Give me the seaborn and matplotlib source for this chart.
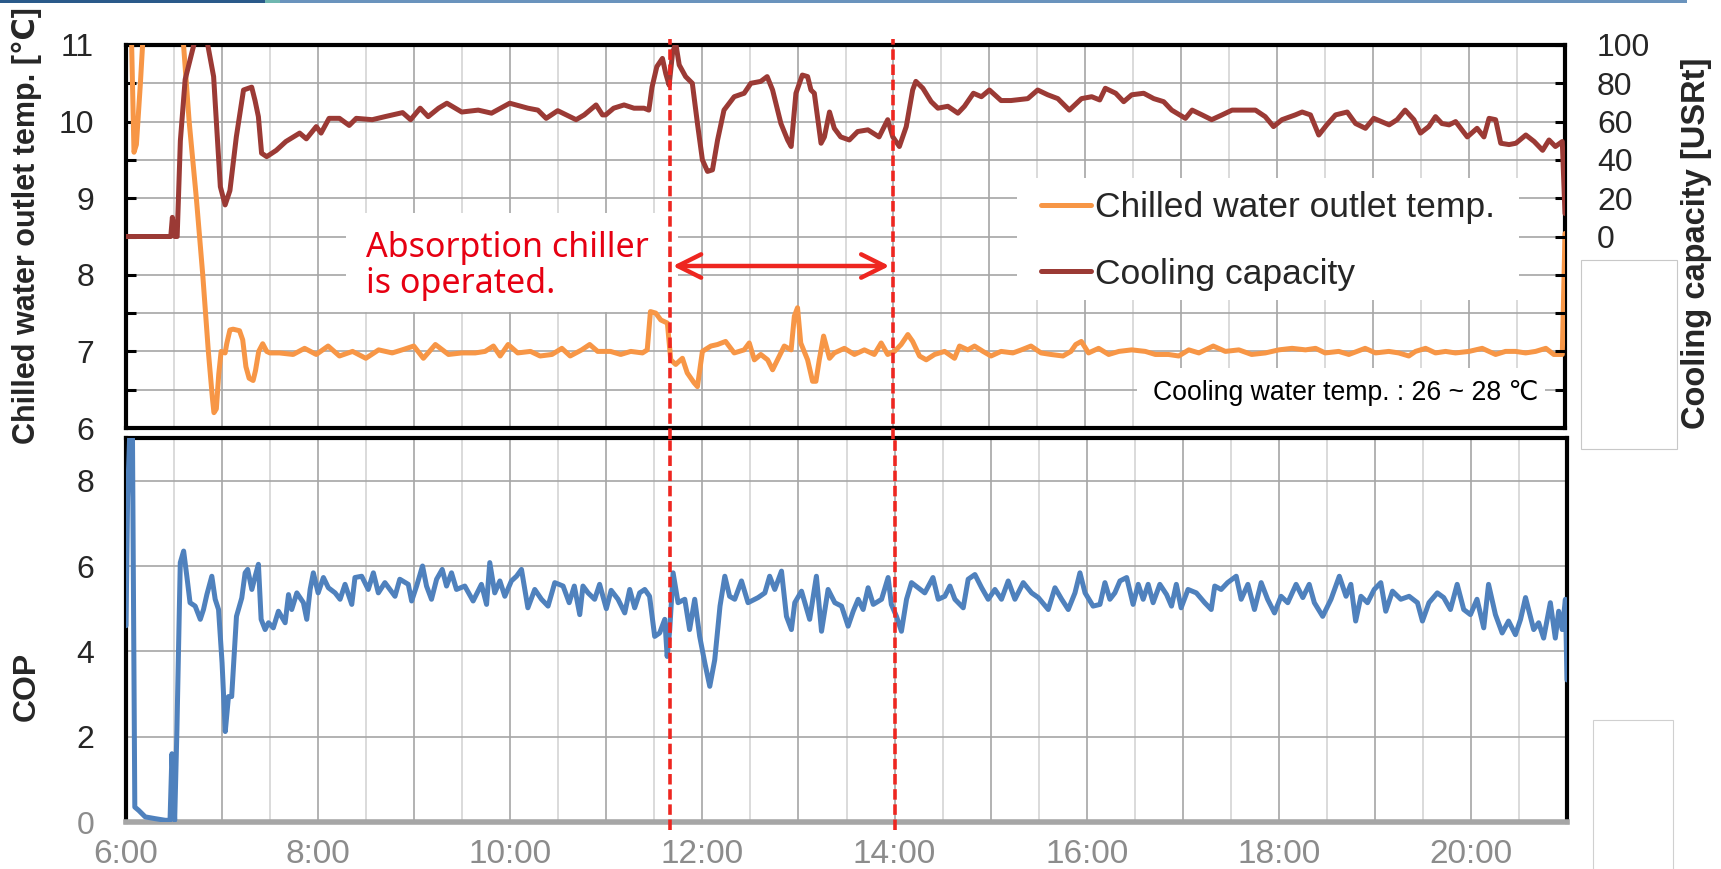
import numpy as np
import matplotlib
matplotlib.use("Agg")
import matplotlib.pyplot as plt
from matplotlib.patches import Rectangle
from matplotlib.lines import Line2D
from matplotlib.ticker import FuncFormatter, MultipleLocator
import seaborn as sns

# ---------------- data (minutes after 6:00) ----------------
temp_t = [0, 3, 5, 6.5, 9, 12, 20, 30, 35, 36, 39.5, 44, 48, 51.5, 54, 55, 56.5, 58, 59.5, 62, 63, 65, 67, 71, 73,
          75, 77, 79.5, 81, 83, 85.5, 88, 90, 96, 104.5, 111.7, 119, 126.4, 133.5, 141.7, 150, 158, 166.5, 172.7,
          180, 186, 193.5, 201.7, 210, 218.4, 224.6, 229.8, 234, 239, 245, 253, 259, 266.4, 272.6, 277.8, 285,
          290, 295, 303, 309.4, 315.7, 323, 326, 328, 331.3, 334.5, 338.6, 340.7, 343.8, 348, 351, 355.3, 357.4,
          360.5, 365.8, 370, 375, 380.4, 386.6, 389.8, 393, 397, 401.3, 404.4, 408.6, 411.7, 416, 418, 420, 422,
          426.3, 429.4, 431.5, 433.6, 436.3, 440, 443, 449.3, 455.6, 461.8, 468, 472.3, 476.4, 480.6, 484.8, 489,
          492, 496.3, 500.5, 505.7, 512, 518.2, 521.3, 526.5, 530.7, 536, 541, 547.3, 554.7, 560, 566, 572.3,
          578.5, 586, 591, 594, 597.5, 602, 608.3, 614.6, 621, 629, 637.5, 643.8, 652, 658.4, 664.7, 671, 680,
          687.6, 696, 704, 712.6, 721, 729.3, 737.7, 744, 750, 758.5, 764.8, 775, 781.5, 789.8, 796, 802.3, 806.5,
          812.8, 819, 825.3, 831.5, 840, 848.2, 856.6, 862.8, 869, 875.4, 881.6, 888, 893, 898.3, 900]
temp_v = [13.0, 11.5, 9.6, 9.7, 10.5, 11.6, 14.0, 14.0, 11.5, 11.0, 10.0, 9.0, 8.0, 7.0, 6.4, 6.2, 6.25, 6.7, 7.0,
          6.98, 7.1, 7.28, 7.29, 7.27, 7.15, 6.8, 6.65, 6.62, 6.75, 7.0, 7.1, 7.0, 6.98, 6.98, 6.96, 7.04, 6.96,
          7.07, 6.94, 7.0, 6.91, 7.02, 6.98, 7.02, 7.07, 6.91, 7.09, 6.96, 6.98, 6.98, 7.0, 7.07, 6.94, 7.09, 6.98,
          7.0, 6.94, 6.96, 7.04, 6.94, 7.02, 7.09, 7.0, 7.0, 6.96, 7.0, 6.98, 7.02, 7.52, 7.5, 7.41, 7.37, 6.89,
          6.83, 6.91, 6.72, 6.59, 6.54, 7.0, 7.07, 7.09, 7.13, 6.98, 7.02, 7.11, 6.89, 6.96, 6.89, 6.76, 6.94, 7.07,
          7.02, 7.46, 7.57, 7.11, 6.89, 6.61, 6.61, 6.89, 7.2, 6.91, 6.98, 7.04, 6.96, 7.02, 6.96, 7.11, 6.96, 7.0,
          7.09, 7.22, 7.13, 6.94, 6.89, 6.96, 7.0, 6.91, 7.07, 7.02, 7.07, 7.0, 6.94, 7.0, 6.98, 7.02, 7.07, 6.98,
          6.96, 6.94, 7.0, 7.09, 7.13, 6.98, 7.04, 6.96, 7.0, 7.02, 7.0, 6.96, 6.96, 6.94, 7.02, 6.98, 7.07, 7.0,
          7.02, 6.96, 6.98, 7.02, 7.04, 7.02, 7.04, 6.98, 7.0, 6.96, 7.04, 6.98, 7.0, 6.98, 6.94, 7.0, 7.04, 6.98,
          7.0, 6.98, 7.0, 7.04, 6.96, 7.0, 7.0, 6.98, 7.0, 7.04, 6.96, 6.96, 8.54]

cap_t = [0, 28, 29, 30.5, 32, 34, 37, 40, 43, 50.7, 54.8, 59, 62, 65, 69, 73.5, 78.6, 80.7, 82.8, 84.8, 88, 94, 100,
         108.6, 112.8, 119, 122, 127, 133.5, 139.6, 144, 154, 162, 173, 178, 184, 189, 195.5, 200.7, 210, 220.3,
         228.6, 240, 251.4, 257.6, 262.8, 270, 281.5, 286.6, 294, 298, 300, 305, 311.5, 317.7, 324, 327, 329, 332,
         335.5, 337.6, 339.7, 341.8, 343.8, 346, 350, 354.2, 357.4, 360.5, 363.7, 366.8, 370, 374, 380.4, 386.6,
         390.8, 397, 401, 404.4, 409.6, 413.8, 416, 419, 423, 426.3, 428.4, 430.5, 434.7, 436.8, 440, 443, 447,
         452.4, 457.6, 464, 471, 476.4, 479.6, 483.7, 488, 492, 494, 498.4, 503.6, 507.8, 514, 520.3, 524.4, 530,
         535, 540, 547.3, 553.5, 564, 570.2, 576.5, 582.8, 590, 597.6, 604, 609, 612.5, 619, 624, 629, 636.5,
         642.8, 649, 654, 662.6, 666.8, 673, 679, 685.5, 691.8, 700, 706.4, 712.5, 717.7, 723, 731.3, 735.6, 740.8,
         746, 751, 756.5, 763.8, 769, 775.2, 780.4, 790, 795, 800, 805.5, 809.6, 814.8, 819, 823, 827.5, 831.6,
         838.9, 845, 849.3, 852.5, 856.6, 859.8, 865, 869.3, 875.5, 880.7, 886, 890, 894, 898.3, 900]
cap_v = [0, 0, 10, 0, 0, 50, 82, 92, 102, 102, 83.5, 26, 16.5, 24, 52, 76.5, 78, 71, 62.6, 43.5, 41.7, 45, 49.6, 54,
         51, 57.4, 54, 61.7, 61.7, 58, 61.7, 61, 62.6, 64.7, 61, 67, 62.6, 67, 69.6, 65, 66, 64.4, 69.6, 67, 66,
         61.7, 65.7, 61, 63.5, 68.7, 63.5, 63.5, 67, 68.7, 67, 67, 66, 78, 88.7, 93, 85, 79, 95.7, 101, 89.6, 83.5,
         80, 59, 40, 34, 34.8, 50.4, 66, 73, 74.8, 80, 81, 83.5, 76.5, 59, 50.4, 47, 74.8, 84.3, 83.5, 76.5, 74.8,
         48.7, 52, 65, 56.5, 52, 50.4, 54.8, 55.7, 52, 61, 52, 47, 57.4, 76.5, 81, 77.4, 70.4, 67, 68, 64.4, 68,
         74.8, 73, 76.5, 71, 71, 72, 76.5, 74, 72, 66, 72, 73, 71.3, 77.4, 74.8, 70.4, 74, 74.8, 72, 70.4, 66, 61.7,
         66, 63.5, 61, 63.5, 66, 66, 66, 62.6, 57.4, 61, 63.5, 65, 63.5, 53, 58.3, 63.5, 65, 59, 56.5, 61.7, 58.3,
         61, 66, 61, 54, 57.4, 62.6, 59, 58.3, 60, 52, 56.5, 52, 61.7, 61, 48.7, 48, 48.7, 53, 49.6, 45, 50.4, 47,
         49.6, 12]

cop_t = [0, 1, 2.5, 4, 5.5, 8, 12, 18, 24.5, 27.5, 28.7, 30.4, 31.8, 33.9, 36, 38, 40, 43.2, 46.4, 48.4, 50.5, 53.6,
         55.7, 57.8, 60, 62, 64, 66, 69, 72.3, 74.4, 76, 78.6, 80.7, 82.7, 84.4, 86.9, 89, 92, 95.2, 99.4, 101.5,
         103.5, 106.7, 110.8, 112.9, 115, 117, 120, 123.3, 126.4, 130.6, 133.7, 136.8, 141, 143, 147.2, 151.3,
         154.5, 157.6, 161.7, 168, 171, 176.3, 178.4, 181.5, 185.2, 187.7, 190.8, 194, 197.5, 200.2, 203.3, 206.4,
         211.6, 216.8, 222, 225.2, 227.2, 230.3, 233.5, 236.6, 240.7, 243.9, 247, 251, 255.3, 259.5, 263.6, 267.8,
         273, 276.8, 280, 283.4, 285.4, 288.6, 292.7, 295.8, 300, 303, 307.3, 311.5, 314.6, 317.7, 320.8, 324, 327,
         330.2, 333.3, 336.5, 338, 339.6, 341.7, 344.8, 349, 352, 355.2, 358.3, 361.5, 364.6, 367.7, 371, 374, 377,
         380.2, 384.4, 388.5, 394.8, 399, 402, 405.2, 409.4, 412.5, 415.6, 417.7, 421.9, 427, 431.2, 434.4, 438.5,
         442.7, 446.9, 451, 454.2, 457.3, 460.4, 463.5, 466.7, 471.9, 476, 478, 481.2, 484.3, 487.5, 490.6, 494.8,
         498.9, 504, 507.3, 511.4, 514.6, 517.7, 522.9, 526, 530.2, 534.4, 538.5, 542.7, 546.8, 551, 555.2, 560.4,
         565.6, 569.8, 576, 580.2, 584.4, 588.5, 592.7, 595.8, 599, 604, 608.3, 611.4, 614.5, 617.6, 620.8, 625,
         629, 632.2, 635.3, 638.4, 641.5, 645.7, 649.9, 653, 656, 659, 663.3, 668.5, 673.7, 677.8, 680, 684, 688,
         693.4, 696.5, 700.7, 704.8, 709, 713, 717.3, 721.4, 725.6, 730.8, 735, 739, 742.2, 747.4, 752.6, 757.8,
         762, 765, 768, 771.3, 775.4, 779.6, 783.7, 786.8, 791, 796.2, 801.4, 806.6, 809.7, 813.8, 819, 823, 827.2,
         831.4, 835.5, 839.7, 843.8, 848, 851, 855.3, 859.5, 863.5, 867.8, 871, 874.1, 879.2, 882.3, 885.4, 889.6,
         892.7, 894.8, 897, 899, 900]
cop_v = [4.6, 7.6, 9.3, 9.3, 0.35, 0.27, 0.12, 0.08, 0.04, 0.04, 1.6, 0.04, 2.16, 6.08, 6.35, 5.76, 5.14, 5.06, 4.75,
         4.98, 5.33, 5.76, 5.22, 4.98, 3.73, 2.12, 2.94, 2.94, 4.82, 5.25, 5.84, 5.92, 5.45, 5.76, 6.04, 4.75, 4.51,
         4.67, 4.55, 4.94, 4.67, 5.33, 4.98, 5.37, 5.14, 4.75, 5.45, 5.84, 5.37, 5.73, 5.49, 5.37, 5.22, 5.57, 5.1,
         5.73, 5.76, 5.45, 5.84, 5.37, 5.61, 5.29, 5.69, 5.57, 5.18, 5.53, 6.0, 5.53, 5.22, 5.69, 5.92, 5.53, 5.84,
         5.45, 5.53, 5.18, 5.57, 5.1, 6.08, 5.37, 5.65, 5.29, 5.65, 5.76, 5.92, 5.02, 5.45, 5.22, 5.06, 5.61, 5.53,
         5.14, 5.53, 4.86, 5.53, 5.37, 5.22, 5.57, 5.0, 5.43, 5.22, 4.9, 5.45, 5.02, 5.37, 5.45, 5.29, 4.35, 4.43,
         4.75, 3.88, 4.51, 5.84, 5.14, 5.22, 4.51, 5.22, 4.35, 3.73, 3.18, 3.8, 5.06, 5.76, 5.29, 5.22, 5.65, 5.14,
         5.26, 5.37, 5.76, 5.45, 5.88, 4.82, 4.51, 5.14, 5.41, 4.75, 5.76, 4.47, 5.45, 5.14, 5.06, 4.59, 4.94, 5.22,
         4.98, 5.49, 5.1, 5.22, 5.73, 5.1, 4.82, 4.47, 5.22, 5.61, 5.49, 5.37, 5.73, 5.22, 5.29, 5.53, 5.22, 5.02,
         5.69, 5.8, 5.49, 5.22, 5.45, 5.22, 5.65, 5.22, 5.61, 5.37, 5.26, 4.98, 5.49, 5.22, 4.98, 5.37, 5.84, 5.37,
         5.06, 5.1, 5.61, 5.22, 5.37, 5.65, 5.73, 5.1, 5.57, 5.22, 5.57, 5.14, 5.57, 5.33, 5.06, 5.57, 5.02, 5.45,
         5.37, 5.14, 4.98, 5.53, 5.45, 5.61, 5.76, 5.22, 5.57, 4.98, 5.61, 5.22, 4.9, 5.29, 5.14, 5.57, 5.26, 5.57,
         5.14, 4.82, 5.22, 5.76, 5.29, 5.57, 4.71, 5.29, 5.14, 5.45, 5.61, 4.94, 5.41, 5.22, 5.29, 5.14, 4.71, 5.14,
         5.37, 5.26, 4.98, 5.57, 4.98, 4.86, 5.22, 4.55, 5.57, 4.86, 4.43, 4.71, 4.39, 4.75, 5.26, 4.51, 4.67, 4.31,
         5.14, 4.31, 4.94, 4.51, 5.22, 3.33]

x_tick_minutes = list(range(0, 901, 120))
x_tick_labels = ["6:00", "8:00", "10:00", "12:00", "14:00", "16:00", "18:00", "20:00"]
chiller_start, chiller_end = 340, 480

series_temp = "Chilled water outlet temp."
series_cap = "Cooling capacity"

# ---------------- style ----------------
sns.set_theme(style="white")
plt.rcParams["font.family"] = ["Liberation Sans", "DejaVu Sans"]

W, H = 1721, 869
fig = plt.figure(figsize=(W / 100, H / 100), dpi=100)

def fx(px):
    return px / W

def fy(py):
    return 1 - py / H

ax_top = fig.add_axes([fx(126), fy(428), fx(1565 - 126), (428 - 45) / H])
ax_bot = fig.add_axes([fx(126), fy(822), fx(1567 - 126), (822 - 438) / H])
ax_cap = ax_top.twinx()

C_ORANGE = "#F79646"
C_BROWN = "#9B3A35"
C_BLUE = "#4F81BD"
C_RED = "#EE2620"
C_GRID = "#A6A6A6"
C_GRID_L = "#D4D4D4"
C_GRAY = "#8C8C8C"
LW = 3.6

# ---------------- lines ----------------
sns.lineplot(x=temp_t, y=temp_v, ax=ax_top, color=C_ORANGE, estimator=None, zorder=3)
sns.lineplot(x=cap_t, y=cap_v, ax=ax_cap, color=C_BROWN, estimator=None, zorder=3)
sns.lineplot(x=cop_t, y=cop_v, ax=ax_bot, color=C_BLUE, estimator=None, zorder=3)
for ax in (ax_top, ax_cap, ax_bot):
    for ln in ax.get_lines():
        ln.set_linewidth(LW)
        ln.set_solid_joinstyle("round")

# ---------------- axes limits / ticks ----------------
for ax in (ax_top, ax_bot, ax_cap):
    ax.set_xlim(0, 900)
    ax.set_xlabel("")
    ax.set_ylabel("")

ax_top.set_ylim(6, 11)
ax_cap.set_ylim(-100, 100)
ax_bot.set_ylim(0, 9)

# top panel
ax_top.set_yticks(np.arange(6, 11.01, 0.5))
ax_top.yaxis.set_major_formatter(FuncFormatter(lambda v, p: f"{v:g}" if abs(v - round(v)) < 1e-6 else ""))
ax_top.xaxis.set_major_locator(MultipleLocator(60))
ax_top.xaxis.set_minor_locator(MultipleLocator(30))
ax_top.tick_params(axis="x", which="both", labelbottom=False, direction="in", length=7, width=2.2, color="black")
ax_top.tick_params(axis="y", which="both", direction="in", length=7, width=2.2, color="black",
                   labelsize=23, pad=23)
ax_cap.set_yticks(np.arange(-100, 101, 20))
ax_cap.yaxis.set_major_formatter(FuncFormatter(lambda v, p: f"{v:g}" if v >= 0 else ""))
ax_cap.tick_params(axis="y", which="both", direction="in", length=7, width=2.2, color="black",
                   labelsize=23, pad=23)
ax_cap.tick_params(axis="x", which="both", bottom=False, top=False, labelbottom=False)

ax_top.grid(True, axis="y", color=C_GRID, lw=1.2)
ax_top.grid(True, axis="x", which="major", color=C_GRID, lw=1.2)
ax_top.grid(True, axis="x", which="minor", color=C_GRID_L, lw=1.2)
ax_top.set_axisbelow(True)
ax_cap.grid(False)

for s in ax_top.spines.values():
    s.set_color("black")
    s.set_linewidth(3)
for s in ax_cap.spines.values():
    s.set_visible(False)

# bottom panel
ax_bot.set_yticks([0, 2, 4, 6, 8])
ax_bot.yaxis.set_minor_locator(MultipleLocator(0.5))
ax_bot.xaxis.set_major_locator(MultipleLocator(60))
ax_bot.xaxis.set_minor_locator(MultipleLocator(30))
ax_bot.xaxis.set_major_formatter(FuncFormatter(
    lambda v, p: x_tick_labels[x_tick_minutes.index(int(round(v)))] if int(round(v)) in x_tick_minutes else ""))
ax_bot.tick_params(axis="x", which="both", direction="in", length=8, width=3, color=C_GRID,
                   labelsize=24, labelcolor=C_GRAY, pad=12)
ax_bot.tick_params(axis="y", which="both", direction="in", length=6, width=2.2, color="black",
                   labelsize=23, pad=23)
ax_bot.grid(True, axis="y", which="major", color=C_GRID, lw=1.2)
ax_bot.grid(True, axis="x", which="major", color=C_GRID, lw=1.2)
ax_bot.grid(True, axis="x", which="minor", color=C_GRID_L, lw=1.2)
ax_bot.set_axisbelow(True)
for k, s in ax_bot.spines.items():
    s.set_linewidth(3)
    s.set_color("black")
ax_bot.spines["bottom"].set_color(C_GRID)
ax_bot.spines["bottom"].set_linewidth(4)
for lab in ax_bot.get_yticklabels():
    if lab.get_text() == "0":
        lab.set_color(C_GRAY)

# ---------------- white boxes (annotation backgrounds) ----------------
for (x0, y0, w, h) in [(137.5, 7.51, 208, 1.30), (557.5, 7.67, 313.5, 1.59), (632.5, 6.02, 255, 0.76)]:
    ax_top.add_patch(Rectangle((x0, y0), w, h, facecolor="white", edgecolor="none", zorder=1))

# ---------------- operation period markers ----------------
for xv in (chiller_start, chiller_end):
    ax_cap.axvline(xv, ymin=-0.03, ymax=1.016, color=C_RED, lw=2.6, ls=(0, (2.9, 1.3)), clip_on=False, zorder=6)
    ax_bot.axvline(xv, ymin=-0.02, ymax=1.0, color=C_RED, lw=2.6, ls=(0, (2.9, 1.3)), clip_on=False, zorder=6)

ax_top.annotate("", xy=(chiller_start + 2, 8.115), xytext=(chiller_end - 2.5, 8.115),
                arrowprops=dict(arrowstyle="<->", color=C_RED, lw=3.2, mutation_scale=42,
                                shrinkA=0, shrinkB=0), zorder=6)
ax_top.text(150, 8.57, "Absorption chiller\nis operated.", color="#E60012", fontsize=24.5,
            family=["Noto Sans", "DejaVu Sans"], ha="left", va="top", linespacing=1.06, zorder=5)

ax_top.text(642.5, 6.46, "Cooling water temp. : 26 ~ 28 ℃", fontsize=19.2, color="black",
            ha="left", va="center", zorder=5)

# ---------------- legend ----------------
handles = [Line2D([], [], color=C_ORANGE, lw=LW), Line2D([], [], color=C_BROWN, lw=LW)]
leg = ax_cap.legend(handles, [series_temp, series_cap], loc="upper left",
                    bbox_to_anchor=(fx(1041), fy(191)), bbox_transform=fig.transFigure,
                    frameon=False, fontsize=25.5, handlelength=1.4, handletextpad=0.12,
                    labelspacing=0.95, borderpad=0, borderaxespad=0)
leg.set_zorder(7)

# ---------------- axis titles ----------------
fig.text(fx(27), fy(226), "Chilled water outlet temp. [℃]", rotation=90, ha="center", va="center",
         fontsize=22, fontweight="bold")
fig.text(fx(27), fy(686), "COP", rotation=90, ha="center", va="center", fontsize=23, fontweight="bold")
fig.text(fx(1697), fy(243), "Cooling capacity [USRt]", rotation=90, ha="center", va="center",
         fontsize=23.5, fontweight="bold")

# ---------------- slide decorations ----------------
fig.add_artist(Rectangle((0, fy(3)), fx(265), 3 / H, transform=fig.transFigure, color="#2A5A8A", lw=0))
fig.add_artist(Rectangle((fx(265), fy(3)), fx(15), 3 / H, transform=fig.transFigure, color="#6FB7B0", lw=0))
fig.add_artist(Rectangle((fx(280), fy(3)), fx(1407), 3 / H, transform=fig.transFigure, color="#6A93BD", lw=0))
fig.add_artist(Rectangle((fx(1581), fy(449)), fx(96), (449 - 260) / H, transform=fig.transFigure,
                         facecolor="none", edgecolor="#C8C8C8", lw=0.8))
fig.add_artist(Rectangle((fx(1593), fy(875)), fx(80), (875 - 720) / H, transform=fig.transFigure,
                         facecolor="none", edgecolor="#D0D0D0", lw=0.8))

fig.savefig("out.png", dpi=100)
